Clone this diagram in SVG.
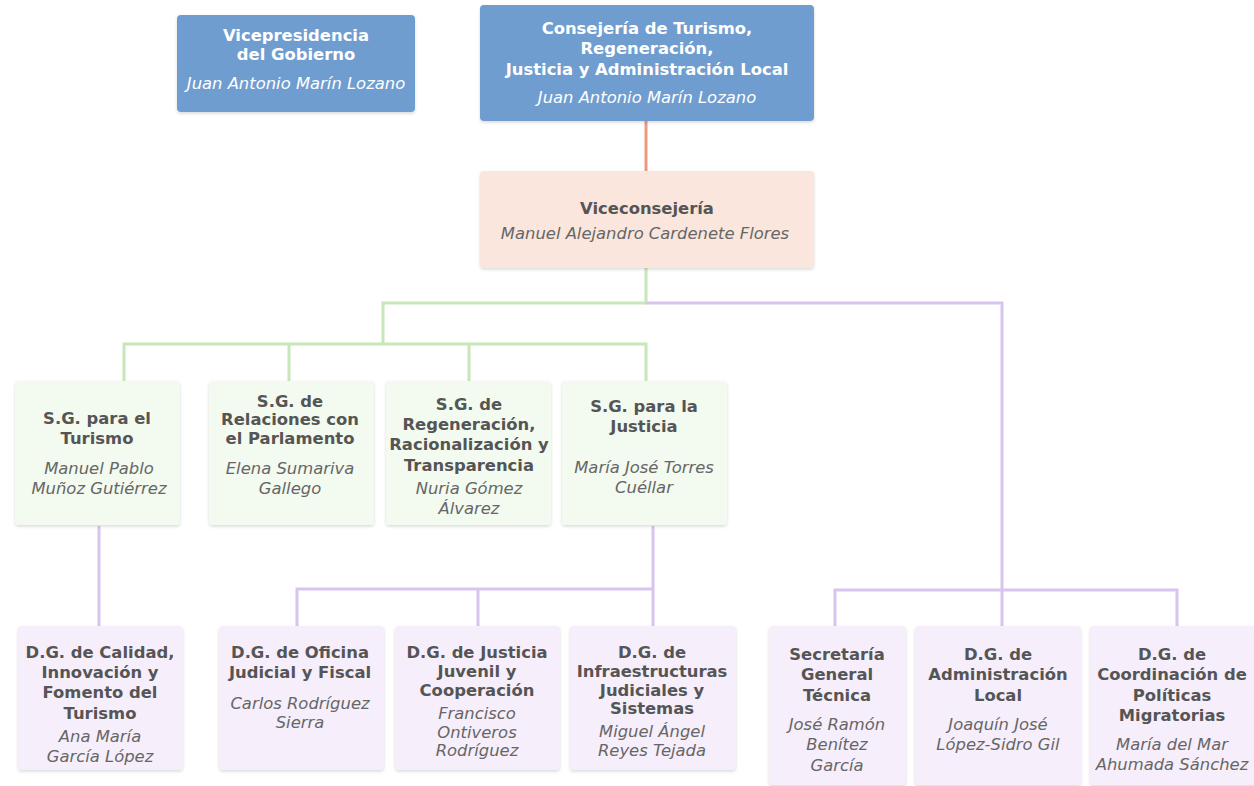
<svg xmlns="http://www.w3.org/2000/svg" width="1254" height="786" viewBox="0 0 1254 786">
<defs>
<filter id="sh" x="-10%" y="-10%" width="120%" height="125%">
<feDropShadow dx="0" dy="1.5" stdDeviation="1.5" flood-color="#000" flood-opacity="0.15"/>
</filter>
<style>
text{font-family:"DejaVu Sans",Verdana,sans-serif;font-size:16.4px;text-anchor:middle}
.t{font-weight:bold;fill:#555}
.n{font-style:italic;fill:#666}
.tw{font-weight:bold;fill:#fff}
.nw{font-style:italic;fill:#fff}
.top{fill:#709dd0;filter:url(#sh)}
.vc{fill:#fae6dc;filter:url(#sh)}
.sg{fill:#f3faef;filter:url(#sh)}
.dg{fill:#f6eefb;filter:url(#sh)}
.lg{stroke:#c8e7b8;stroke-width:3;fill:none}
.lp{stroke:#d8c5ef;stroke-width:3;fill:none}
.lo{stroke:#e99a7f;stroke-width:3;fill:none}
</style>
</defs>
<rect width="1254" height="786" fill="#fff"/>
<g id="connectors">
<path class="lo" d="M646,121 V171"/>
<path class="lg" d="M646,268 V303 H383 V344 M124,381 V344 H646 V381 M289,344 V381 M469,344 V381"/>
<path class="lp" d="M646,303 H1002 V626 M835,626 V590 H1177 V626"/>
<path class="lp" d="M99,526 V626"/>
<path class="lp" d="M653,526 V589 H297 V626 M478,589 V626 M653,589 V626"/>
</g>
<g id="n-vicepresidencia">
<rect class="top" x="177" y="15" width="238" height="97" rx="4"/>
<text class="tw" x="296" y="41">Vicepresidencia</text>
<text class="tw" x="296" y="60">del Gobierno</text>
<text class="nw" x="296" y="89">Juan Antonio Marín Lozano</text>
</g>
<g id="n-consejeria">
<rect class="top" x="480" y="5" width="334" height="116" rx="4"/>
<text class="tw" x="647" y="34">Consejería de Turismo,</text>
<text class="tw" x="647" y="54">Regeneración,</text>
<text class="tw" x="647" y="75">Justicia y Administración Local</text>
<text class="nw" x="647" y="103">Juan Antonio Marín Lozano</text>
</g>
<g id="n-viceconsejeria">
<rect class="vc" x="480" y="171" width="334" height="97" rx="4"/>
<text class="t" x="647" y="214">Viceconsejería</text>
<text class="n" x="645" y="239">Manuel Alejandro Cardenete Flores</text>
</g>
<g id="n-sg-turismo">
<rect class="sg" x="15" y="381" width="165" height="144" rx="4"/>
<text class="t" x="97" y="424">S.G. para el</text>
<text class="t" x="97" y="444">Turismo</text>
<text class="n" x="99" y="474">Manuel Pablo</text>
<text class="n" x="99" y="494">Muñoz Gutiérrez</text>
</g>
<g id="n-sg-relaciones">
<rect class="sg" x="209" y="381" width="165" height="144" rx="4"/>
<text class="t" x="290" y="407">S.G. de</text>
<text class="t" x="290" y="425">Relaciones con</text>
<text class="t" x="290" y="444">el Parlamento</text>
<text class="n" x="290" y="474">Elena Sumariva</text>
<text class="n" x="290" y="494">Gallego</text>
</g>
<g id="n-sg-regeneracion">
<rect class="sg" x="386" y="381" width="165" height="144" rx="4"/>
<text class="t" x="469" y="410">S.G. de</text>
<text class="t" x="469" y="430">Regeneración,</text>
<text class="t" x="469" y="450">Racionalización y</text>
<text class="t" x="469" y="471">Transparencia</text>
<text class="n" x="469" y="494">Nuria Gómez</text>
<text class="n" x="469" y="514">Álvarez</text>
</g>
<g id="n-sg-justicia">
<rect class="sg" x="562" y="381" width="165" height="144" rx="4"/>
<text class="t" x="644" y="412">S.G. para la</text>
<text class="t" x="644" y="432">Justicia</text>
<text class="n" x="644" y="473">María José Torres</text>
<text class="n" x="644" y="493">Cuéllar</text>
</g>
<g id="n-dg-calidad">
<rect class="dg" x="18" y="626" width="165" height="144" rx="4"/>
<text class="t" x="100" y="658">D.G. de Calidad,</text>
<text class="t" x="100" y="678">Innovación y</text>
<text class="t" x="100" y="698">Fomento del</text>
<text class="t" x="100" y="719">Turismo</text>
<text class="n" x="100" y="742">Ana María</text>
<text class="n" x="100" y="762">García López</text>
</g>
<g id="n-dg-oficina">
<rect class="dg" x="219" y="626" width="165" height="144" rx="4"/>
<text class="t" x="300" y="658">D.G. de Oficina</text>
<text class="t" x="300" y="678">Judicial y Fiscal</text>
<text class="n" x="300" y="709">Carlos Rodríguez</text>
<text class="n" x="300" y="728">Sierra</text>
</g>
<g id="n-dg-juvenil">
<rect class="dg" x="395" y="626" width="165" height="144" rx="4"/>
<text class="t" x="477" y="658">D.G. de Justicia</text>
<text class="t" x="477" y="677">Juvenil y</text>
<text class="t" x="477" y="696">Cooperación</text>
<text class="n" x="477" y="719">Francisco</text>
<text class="n" x="477" y="738">Ontiveros</text>
<text class="n" x="477" y="756">Rodríguez</text>
</g>
<g id="n-dg-infraestructuras">
<rect class="dg" x="570" y="626" width="166" height="144" rx="4"/>
<text class="t" x="652" y="658">D.G. de</text>
<text class="t" x="652" y="677">Infraestructuras</text>
<text class="t" x="652" y="696">Judiciales y</text>
<text class="t" x="652" y="714">Sistemas</text>
<text class="n" x="652" y="737">Miguel Ángel</text>
<text class="n" x="652" y="756">Reyes Tejada</text>
</g>
<g id="n-secretaria">
<rect class="dg" x="769" y="626" width="137" height="159" rx="4"/>
<text class="t" x="837" y="660">Secretaría</text>
<text class="t" x="837" y="680">General</text>
<text class="t" x="837" y="701">Técnica</text>
<text class="n" x="837" y="730">José Ramón</text>
<text class="n" x="837" y="750">Benítez</text>
<text class="n" x="837" y="771">García</text>
</g>
<g id="n-dg-administracion">
<rect class="dg" x="915" y="626" width="166" height="159" rx="4"/>
<text class="t" x="998" y="660">D.G. de</text>
<text class="t" x="998" y="680">Administración</text>
<text class="t" x="998" y="701">Local</text>
<text class="n" x="998" y="730">Joaquín José</text>
<text class="n" x="998" y="750">López-Sidro Gil</text>
</g>
<g id="n-dg-coordinacion">
<rect class="dg" x="1090" y="626" width="168" height="159" rx="4"/>
<text class="t" x="1172" y="660">D.G. de</text>
<text class="t" x="1172" y="680">Coordinación de</text>
<text class="t" x="1172" y="701">Políticas</text>
<text class="t" x="1172" y="721">Migratorias</text>
<text class="n" x="1172" y="750">María del Mar</text>
<text class="n" x="1172" y="770">Ahumada Sánchez</text>
</g>
</svg>
